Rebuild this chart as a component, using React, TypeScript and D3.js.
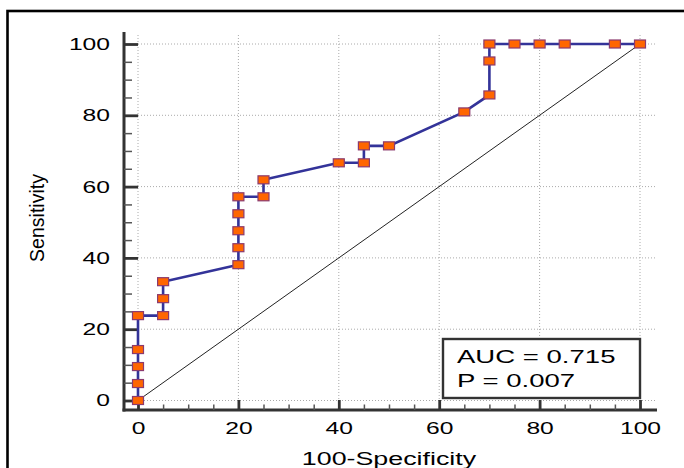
import React, { useRef, useEffect } from "react";
import { select, scaleLinear, axisLeft, axisBottom, line, range } from "d3";

const specificity = [0, 0, 0, 0, 0, 5, 5, 5, 20, 20, 20, 20, 20, 25, 25, 40, 45, 45, 50, 65, 70, 70, 70, 75, 80, 85, 95, 100];
const sensitivity = [0, 4.76, 9.52, 14.29, 23.81, 23.81, 28.57, 33.33, 38.1, 42.86, 47.62, 52.38, 57.14, 57.14, 61.9, 66.67, 66.67, 71.43, 71.43, 80.95, 85.71, 95.24, 100, 100, 100, 100, 100, 100];
const majorTicks = [0, 20, 40, 60, 80, 100];
const legendLines = ["AUC = 0.715", "P = 0.007"];

const FONT = "'Liberation Sans', Arial, Helvetica, sans-serif";
const STRETCH = 1.45;

function App() {
  const xAxisRef = useRef<SVGGElement>(null);
  const yAxisRef = useRef<SVGGElement>(null);

  const x = scaleLinear().domain([0, 100]).range([138, 640]);
  const y = scaleLinear().domain([0, 100]).range([400.5, 44]);
  const minorTicks = range(0, 101, 5).filter(v => v % 20 !== 0);

  const points = specificity.map((s, i) => [s, sensitivity[i]] as [number, number]);
  const rocPath = line<[number, number]>()
    .x(d => x(d[0]))
    .y(d => y(d[1]))(points);

  useEffect(() => {
    // y axis: ticks point inward (to the right)
    const gy = select(yAxisRef.current);
    gy.selectAll("*").remove();
    gy.append("g")
      .attr("class", "minor")
      .call(axisLeft(y).tickValues(minorTicks).tickSize(-8).tickFormat(() => ""))
      .call(g => g.select(".domain").remove())
      .call(g => g.selectAll("line").attr("stroke", "#555").attr("stroke-width", 1.5));
    gy.append("g")
      .attr("class", "major")
      .call(axisLeft(y).tickValues(majorTicks).tickSize(-14).tickPadding(14))
      .call(g => g.select(".domain").remove())
      .call(g => g.selectAll("line").attr("stroke", "#333").attr("stroke-width", 2.8))
      .call(g =>
        g.selectAll("text")
          .attr("x", 0)
          .attr("transform", `translate(-14,0) scale(${STRETCH},1)`)
          .attr("font-size", 17)
          .attr("font-family", FONT)
          .attr("fill", "#000")
      );

    // x axis: ticks point inward (upwards)
    const gx = select(xAxisRef.current);
    gx.selectAll("*").remove();
    gx.append("g")
      .call(axisBottom(x).tickValues(minorTicks).tickSize(-5.5).tickFormat(() => ""))
      .call(g => g.select(".domain").remove())
      .call(g => g.selectAll("line").attr("stroke", "#555").attr("stroke-width", 1.5));
    gx.append("g")
      .call(axisBottom(x).tickValues(majorTicks).tickSize(-10))
      .call(g => g.select(".domain").remove())
      .call(g => g.selectAll("line").attr("stroke", "#333").attr("stroke-width", 2.8))
      .call(g =>
        g.selectAll("text")
          .attr("y", 0)
          .attr("transform", `translate(0,12) scale(${STRETCH},1)`)
          .attr("font-size", 17)
          .attr("font-family", FONT)
          .attr("fill", "#000")
      );
  }, []);

  return (
    <svg
      width={684}
      height={468}
      style={{ position: "absolute", left: 0, top: 0, background: "#fff" }}
    >
      {/* outer frame */}
      <rect x={7.5} y={11} width={720} height={520} fill="none" stroke="#000" strokeWidth={2.6} />

      {/* grid */}
      {majorTicks.map(v => (
        <line key={"h" + v} x1={138} x2={655} y1={y(v)} y2={y(v)} stroke="#aaa" strokeWidth={1} strokeDasharray="1,2" />
      ))}
      {majorTicks.map(v => (
        <line key={"v" + v} x1={x(v)} x2={x(v)} y1={35} y2={400} stroke="#aaa" strokeWidth={1} strokeDasharray="1,2" />
      ))}

      {/* axis lines */}
      <line x1={124} x2={124} y1={32} y2={411.5} stroke="#333" strokeWidth={3} />
      <line x1={122.5} x2={657} y1={410} y2={410} stroke="#333" strokeWidth={3} />
      <g ref={yAxisRef} transform="translate(124,0)" />
      <g ref={xAxisRef} transform="translate(0,410)" />

      {/* reference diagonal */}
      <line x1={x(0)} y1={y(0)} x2={x(100)} y2={y(100)} stroke="#222" strokeWidth={1} />

      {/* ROC curve */}
      <path d={rocPath || ""} fill="none" stroke="#333399" strokeWidth={2.6} />
      {points.map((d, i) => (
        <rect
          key={i}
          x={x(d[0]) - 5.5}
          y={y(d[1]) - 4}
          width={11}
          height={8}
          fill="#ff6600"
          stroke="#8b3a6e"
          strokeWidth={1.2}
        />
      ))}

      {/* legend box */}
      <rect x={443} y={339} width={197} height={59} fill="#fff" stroke="#333" strokeWidth={2.4} />
      {legendLines.map((t, i) => (
        <text
          key={t}
          transform={`translate(457,${363 + i * 23.5}) scale(${STRETCH},1)`}
          fontSize={19}
          fontFamily={FONT}
          fill="#000"
        >
          {t}
        </text>
      ))}

      {/* axis titles */}
      <text
        transform={`translate(389,465) scale(${STRETCH},1)`}
        textAnchor="middle"
        fontSize={18.5}
        fontFamily={FONT}
        fill="#000"
      >
        100-Specificity
      </text>
      <text
        transform="translate(44,218) rotate(-90)"
        textAnchor="middle"
        fontSize={19.5}
        fontFamily={FONT}
        fill="#000"
      >
        Sensitivity
      </text>
    </svg>
  );
}

export default App;
